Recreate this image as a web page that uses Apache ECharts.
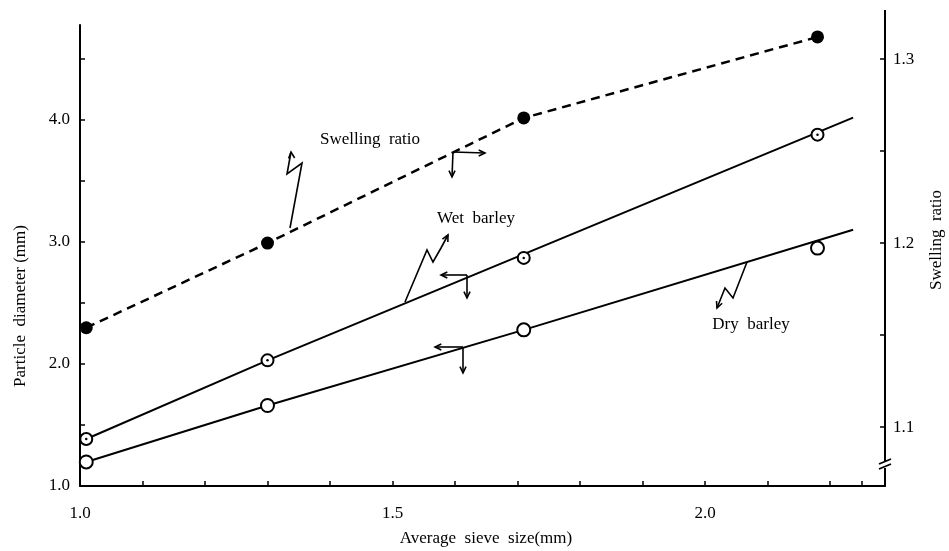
<!DOCTYPE html>
<html><head><meta charset="utf-8">
<script src="https://cdn.jsdelivr.net/npm/echarts@6/dist/echarts.min.js"></script>
<style>html,body{margin:0;padding:0;background:#fff}#c{width:949px;height:551px}</style>
</head><body><div id="c"></div>
<script>
// ---- data ----
const sieveSize = [1.01, 1.30, 1.71, 2.18];
const wetBarley = [1.385, 2.03, 2.87, 3.88];
const dryBarley = [1.197, 1.66, 2.28, 2.95];
const swellingRatio = [1.154, 1.200, 1.268, 1.312];
// hand-drawn curves through the points
const wetCurveX = [1.01, 1.30, 2.237];
const wetCurveY = [1.385, 2.03, 4.02];
const dryCurveX = [1.01, 1.30, 1.71, 2.237];
const dryCurveY = [1.197, 1.66, 2.28, 3.10];
// ticks
const xTickLabels = [1.0, 1.5, 2.0];
const xTicks = [1.1, 1.2, 1.3, 1.4, 1.5, 1.6, 1.7, 1.8, 1.9, 2.0, 2.1, 2.2, 2.25];
const leftTickLabels = [1.0, 2.0, 3.0, 4.0];
const leftTicks = [1.5, 2.0, 2.5, 3.0, 3.5, 4.0, 4.5];
const rightTickLabels = [1.1, 1.2, 1.3];
const rightTicks = [1.1, 1.15, 1.2, 1.25, 1.3];

const pair = (xs, ys) => xs.map((x, i) => [x, ys[i]]);
const FONT = 'Liberation Serif';
const chart = echarts.init(document.getElementById('c'), null, {renderer: 'canvas'});

function arrowHead(x, y, ang) {
  const L = 7, w = 0.45;
  return {
    type: 'polyline',
    shape: {points: [[x - L * Math.cos(ang - w), y - L * Math.sin(ang - w)], [x, y], [x - L * Math.cos(ang + w), y - L * Math.sin(ang + w)]]},
    style: {stroke: '#000', lineWidth: 1.6, fill: null}, z: 20
  };
}
function pline(pts, lw, z) {
  return {type: 'polyline', shape: {points: pts}, style: {stroke: '#000', lineWidth: lw || 1.6, fill: null}, z: z || 20};
}
function txt(x, y, s, rot) {
  return {type: 'text', x: x, y: y, rotation: rot || 0,
    style: {text: s, font: '17px "' + FONT + '"', fill: '#000', align: 'center', verticalAlign: 'middle'}, z: 20};
}

const graphics = [
  txt(370, 140, 'Swelling  ratio'),
  txt(476, 219, 'Wet  barley'),
  txt(751, 325, 'Dry  barley'),
  pline([[290, 228], [302, 163], [287, 174], [291, 152]]),
  arrowHead(291, 152, -Math.PI / 2 - 0.1),
  pline([[453, 152], [452, 177]]), arrowHead(452, 177, Math.PI / 2),
  pline([[453, 152], [485, 153]]), arrowHead(485, 153, 0),
  pline([[405, 302], [427, 250], [433, 262], [441, 248], [448, 235]]),
  arrowHead(448, 235, -1.1),
  pline([[467, 275], [441, 275]]), arrowHead(441, 275, Math.PI),
  pline([[467, 275], [467, 298]]), arrowHead(467, 298, Math.PI / 2),
  pline([[747, 262], [733, 298], [725, 288], [717, 308]]),
  arrowHead(717, 308, 1.95),
  pline([[463, 347], [435, 347]]), arrowHead(435, 347, Math.PI),
  pline([[463, 347], [463, 373]]), arrowHead(463, 373, Math.PI / 2),
  // right axis extension and break
  pline([[885, 10], [885, 25]], 2),
  {type: 'rect', shape: {x: 880, y: 461, width: 10, height: 7}, style: {fill: '#fff'}, z: 30},
  pline([[879, 464], [891, 459]], 1.8, 31),
  pline([[879, 469], [891, 464]], 1.8, 31),
  // axis names
  txt(21, 306, 'Particle  diameter (mm)', Math.PI / 2),
  txt(937, 240, 'Swelling  ratio', Math.PI / 2),
  txt(486, 539, 'Average  sieve  size(mm)')
];

const axisLineStyle = {show: true, lineStyle: {color: '#000', width: 2}};
const labelStyle = {color: '#000', fontFamily: FONT, fontSize: 17};

chart.setOption({
  animation: false,
  backgroundColor: '#fff',
  grid: {left: 80, right: 64, top: 25, bottom: 65, containLabel: false},
  xAxis: {
    type: 'value', min: 1.0, max: 2.288,
    axisLine: {show: true, onZero: false, lineStyle: {color: '#000', width: 2}},
    axisTick: {show: true, inside: true, length: 5, customValues: xTicks, lineStyle: {color: '#000', width: 1.5}},
    axisLabel: Object.assign({customValues: xTickLabels, margin: 19, formatter: v => Number(v).toFixed(1)}, labelStyle),
    splitLine: {show: false}
  },
  yAxis: [{
    type: 'value', min: 1.0, max: 4.779, position: 'left',
    axisLine: axisLineStyle,
    axisTick: {show: true, inside: true, length: 5, customValues: leftTicks, lineStyle: {color: '#000', width: 1.5}},
    axisLabel: Object.assign({customValues: leftTickLabels, margin: 10, formatter: v => Number(v).toFixed(1)}, labelStyle),
    splitLine: {show: false}
  }, {
    type: 'value', min: 1.068, max: 1.3185, position: 'right',
    axisLine: axisLineStyle,
    axisTick: {show: true, inside: true, length: 5, customValues: rightTicks, lineStyle: {color: '#000', width: 1.5}},
    axisLabel: Object.assign({customValues: rightTickLabels, margin: 8, formatter: v => Number(v).toFixed(1)}, labelStyle),
    splitLine: {show: false}
  }],
  series: [
    {type: 'line', name: 'Wet curve', data: pair(wetCurveX, wetCurveY), yAxisIndex: 0, showSymbol: false, symbol: 'none',
      lineStyle: {color: '#000', width: 2}, z: 2},
    {type: 'line', name: 'Dry curve', data: pair(dryCurveX, dryCurveY), yAxisIndex: 0, showSymbol: false, symbol: 'none',
      lineStyle: {color: '#000', width: 2}, z: 2},
    {type: 'line', name: 'Swelling ratio', data: pair(sieveSize, swellingRatio), yAxisIndex: 1, symbol: 'none',
      lineStyle: {color: '#000', width: 2.5, type: [9, 6]}, z: 2},
    {type: 'scatter', name: 'Swelling ratio pts', data: pair(sieveSize, swellingRatio), yAxisIndex: 1,
      symbol: 'circle', symbolSize: 13, itemStyle: {color: '#000', opacity: 1}, z: 5},
    {type: 'scatter', name: 'Wet barley', data: pair(sieveSize, wetBarley), yAxisIndex: 0,
      symbol: 'circle', symbolSize: 12, itemStyle: {color: '#fff', borderColor: '#000', borderWidth: 2, opacity: 1}, z: 5},
    {type: 'scatter', name: 'Wet barley centre', data: pair(sieveSize, wetBarley), yAxisIndex: 0,
      symbol: 'circle', symbolSize: 2.5, itemStyle: {color: '#000', opacity: 1}, z: 6},
    {type: 'scatter', name: 'Dry barley', data: pair(sieveSize, dryBarley), yAxisIndex: 0,
      symbol: 'circle', symbolSize: 13, itemStyle: {color: '#fff', borderColor: '#000', borderWidth: 2, opacity: 1}, z: 5}
  ],
  graphic: graphics
});
</script>
</body></html>
